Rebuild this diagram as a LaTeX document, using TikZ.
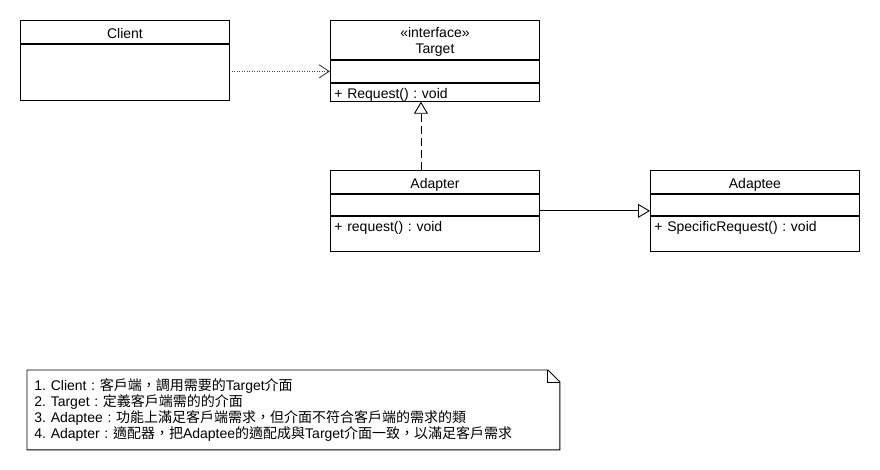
\documentclass[tikz,border=0pt]{standalone}
\usepackage{fontspec}
\setmainfont{Liberation Sans}
\newfontfamily\cjk{Noto Sans CJK TC}
\newcommand{\zh}[1]{{\cjk #1}}
\frenchspacing
\usetikzlibrary{arrows.meta,positioning,calc}

\begin{document}
\begin{tikzpicture}[x=1pt,y=-1pt,line width=0.9pt,
    every node/.style={font=\fontsize{14}{16}\selectfont},
    umlname/.style={draw,anchor=north west,text width=201pt,inner xsep=4pt,inner ysep=0pt,align=center},
    umlpart/.style={draw,below=0pt of #1,text width=201pt,inner xsep=4pt,inner ysep=0pt,align=left},
    notebox/.style={anchor=north west,minimum width=532pt,minimum height=79pt,text width=518pt,inner xsep=7pt,align=left},
    depend/.style={-{Straight Barb[length=10pt,width=13pt]},dash pattern=on 1pt off 1.5pt,black!75},
    realize/.style={-{Triangle[open,length=12pt,width=14pt]},dash pattern=on 8pt off 4pt},
    inherit/.style={-{Triangle[open,length=12pt,width=14pt]}}]
  \path[fill=white,use as bounding box] (0,0) rectangle (880,470);

  % classes
  \node[umlname,minimum height=23pt,text height=13pt,text depth=0pt] (client) at (20,20) {Client};
  \node[umlpart=client,minimum height=56pt] (client-body) {};

  \node[umlname,minimum height=39pt] (target) at (330,20) {\rule{0pt}{15pt}«interface»\\Target};
  \node[umlpart=target,minimum height=22pt] (target-attr) {};
  \node[umlpart=target-attr,text height=15pt,text depth=3pt] (target-ops) {+ Request() : void};

  \node[umlname,minimum height=23pt,text height=13pt,text depth=0pt] (adapter) at (330,170) {Adapter};
  \node[umlpart=adapter,minimum height=21pt] (adapter-attr) {};
  \node[umlpart=adapter-attr,text height=15pt,text depth=20pt] (adapter-ops) {+ request() : void};

  \node[umlname,minimum height=23pt,text height=13pt,text depth=0pt] (adaptee) at (650,170) {Adaptee};
  \node[umlpart=adaptee,minimum height=21pt] (adaptee-attr) {};
  \node[umlpart=adaptee-attr,text height=15pt,text depth=20pt] (adaptee-ops) {+ SpecificRequest() : void};

  % relations
  \draw[depend] ([xshift=2pt]client-body.east |- target-attr.west) -- (target-attr.west);
  \draw[realize] ([xshift=-14pt]adapter.north) -- ([xshift=-14pt]target-ops.south);
  \draw[inherit] ($(adapter.north east)!.5!(adapter-ops.south east)$)
    -- ($(adaptee.north west)!.5!(adaptee-ops.south west)$);

  % note
  \node[notebox] (note) at (27,370) {%
    1. Client : \zh{客戶端，調用需要的}Target\zh{介面}\\
    2. Target : \zh{定義客戶端需的的介面}\\
    3. Adaptee : \zh{功能上滿足客戶端需求，但介面不符合客戶端的需求的類}\\
    4. Adapter : \zh{適配器，把}Adaptee\zh{的適配成與}Target\zh{介面一致，以滿足客戶需求}};
  \draw (note.north west) -- ([xshift=-12pt]note.north east) -- ([yshift=-12pt]note.north east)
    -- (note.south east) -- (note.south west) -- cycle;
  \draw ([xshift=-12pt]note.north east) |- ([yshift=-12pt]note.north east);
\end{tikzpicture}
\end{document}
